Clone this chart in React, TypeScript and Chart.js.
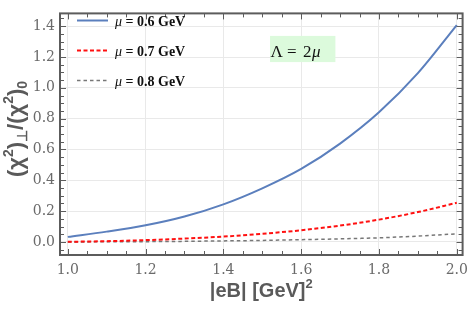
import React, { useEffect, useRef } from "react";
import { Chart, registerables } from "chart.js";

Chart.register(...registerables);

// ---- data ----
const xValues = [1.0, 1.1, 1.2, 1.3, 1.4, 1.5, 1.6, 1.7, 1.8, 1.9, 2.0];
const series06 = [0.033, 0.067, 0.108, 0.165, 0.244, 0.348, 0.474, 0.638, 0.841, 1.095, 1.407];
const series07 = [0.001, 0.005, 0.012, 0.022, 0.035, 0.053, 0.076, 0.106, 0.145, 0.194, 0.254];
const series08 = [0.0, 0.001, 0.002, 0.004, 0.007, 0.010, 0.015, 0.020, 0.027, 0.038, 0.053];
const muLabels = ["0.6", "0.7", "0.8"];
const xTicks = [1.0, 1.2, 1.4, 1.6, 1.8, 2.0];
const yTicks = [0.0, 0.2, 0.4, 0.6, 0.8, 1.0, 1.2, 1.4];
const xRange = [0.98, 2.015];
const yRange = [-0.0846, 1.483];
const annotationBox = { xMin: 1.52, xMax: 1.688, yMin: 1.167, yMax: 1.337 };

const FRAME = "#5c5c5c";
const TEXT = "#5a5a5a";

function drawSegments(ctx: CanvasRenderingContext2D, segs: { t: string; font: string; dy: number }[], x: number, y: number, align: "center" | "left") {
  let total = 0;
  for (const s of segs) { ctx.font = s.font; total += ctx.measureText(s.t).width; }
  let cx = align === "center" ? x - total / 2 : x;
  ctx.textAlign = "left";
  ctx.textBaseline = "alphabetic";
  for (const s of segs) {
    ctx.font = s.font;
    ctx.fillText(s.t, cx, y + s.dy);
    cx += ctx.measureText(s.t).width;
  }
}

const decorPlugin = {
  id: "decor",
  beforeDatasetsDraw(chart: any) {
    const { ctx, scales } = chart;
    const xs = scales.x, ys = scales.y;
    const bx0 = xs.getPixelForValue(annotationBox.xMin);
    const bx1 = xs.getPixelForValue(annotationBox.xMax);
    const by0 = ys.getPixelForValue(annotationBox.yMax);
    const by1 = ys.getPixelForValue(annotationBox.yMin);
    ctx.save();
    ctx.fillStyle = "#dcfadc";
    ctx.fillRect(bx0, by0, bx1 - bx0, by1 - by0);
    ctx.fillStyle = "#111";
    ctx.textBaseline = "alphabetic";
    ctx.textAlign = "left";
    const base = by1 - 5;
    ctx.font = "17px 'Liberation Serif'";
    ctx.fillText("Λ", bx0 + 0.5, base);
    ctx.fillText("=", bx0 + 17, base);
    ctx.fillText("2", bx0 + 33, base);
    ctx.font = "italic 17px 'Liberation Serif'";
    ctx.fillText("μ", bx0 + 42, base);
    ctx.restore();
  },
  afterDraw(chart: any) {
    const { ctx, chartArea: a, scales } = chart;
    const xs = scales.x, ys = scales.y;
    ctx.save();
    ctx.strokeStyle = FRAME;
    ctx.lineWidth = 1;
    ctx.beginPath();
    for (let k = Math.ceil(xs.min * 20); k <= Math.floor(xs.max * 20); k++) {
      const px = Math.round(xs.getPixelForValue(k / 20)) + 0.5;
      const len = k % 4 === 0 ? 6 : 4;
      ctx.moveTo(px, a.bottom); ctx.lineTo(px, a.bottom - len);
      ctx.moveTo(px, a.top); ctx.lineTo(px, a.top + len);
    }
    for (let k = Math.ceil(ys.min * 20); k <= Math.floor(ys.max * 20); k++) {
      const py = Math.round(ys.getPixelForValue(k / 20)) + 0.5;
      const len = k % 4 === 0 ? 6 : 4;
      ctx.moveTo(a.left, py); ctx.lineTo(a.left + len, py);
      ctx.moveTo(a.right, py); ctx.lineTo(a.right - len, py);
    }
    ctx.stroke();
    ctx.lineWidth = 2;
    ctx.strokeRect(a.left, a.top, a.right - a.left, a.bottom - a.top);

    // legend
    const ds = chart.data.datasets;
    for (let i = 0; i < ds.length; i++) {
      const y = 20.5 + i * 30;
      ctx.save();
      ctx.strokeStyle = ds[i].borderColor;
      ctx.lineWidth = ds[i].borderWidth;
      ctx.setLineDash(ds[i].borderDash || []);
      ctx.beginPath();
      ctx.moveTo(77, y); ctx.lineTo(108, y);
      ctx.stroke();
      ctx.restore();
      ctx.fillStyle = "#111";
      drawSegments(ctx, [
        { t: "μ", font: "italic 14px 'Liberation Serif'", dy: 0 },
        { t: " = " + muLabels[i] + " GeV", font: "bold 14px 'Liberation Serif'", dy: 0 },
      ], 115, y + 5, "left");
    }

    // x title
    ctx.fillStyle = TEXT;
    const xc = (a.left + a.right) / 2;
    drawSegments(ctx, [
      { t: "|eB| [GeV]", font: "bold 20px 'Liberation Sans'", dy: 0 },
      { t: "2", font: "bold 13px 'Liberation Sans'", dy: -9 },
    ], xc, 297, "center");

    // y title (rotated)
    ctx.save();
    ctx.translate(23, 129);
    ctx.rotate(-Math.PI / 2);
    const big = "bold 22px 'Liberation Sans'";
    const small = "bold 14px 'Liberation Sans'";
    drawSegments(ctx, [
      { t: "(χ", font: big, dy: 0 },
      { t: "2", font: small, dy: -10 },
      { t: ")", font: big, dy: 0 },
      { t: "⊥", font: small, dy: 4 },
      { t: "/(χ", font: big, dy: 0 },
      { t: "2", font: small, dy: -10 },
      { t: ")", font: big, dy: 0 },
      { t: "0", font: small, dy: 4 },
    ], 0, 0, "center");
    ctx.restore();
    ctx.restore();
  },
};

export default function App() {
  const ref = useRef<HTMLCanvasElement | null>(null);
  useEffect(() => {
    document.body.style.margin = "0";
    const toPts = (ys: number[]) => xValues.map((x, i) => ({ x, y: ys[i] }));
    const chart = new Chart(ref.current!, {
      type: "line",
      data: {
        datasets: [
          { label: "μ = 0.6 GeV", data: toPts(series06), borderColor: "#5b7fbd", borderWidth: 2, pointRadius: 0, cubicInterpolationMode: "monotone", fill: false },
          { label: "μ = 0.7 GeV", data: toPts(series07), borderColor: "#ff1010", borderWidth: 2, borderDash: [4, 2.5], pointRadius: 0, cubicInterpolationMode: "monotone", fill: false },
          { label: "μ = 0.8 GeV", data: toPts(series08), borderColor: "#777777", borderWidth: 1.5, borderDash: [3.5, 3], pointRadius: 0, cubicInterpolationMode: "monotone", fill: false },
        ],
      } as any,
      options: {
        animation: false,
        responsive: false,
        devicePixelRatio: 1,
        layout: { padding: { top: 1, right: 7, left: 0, bottom: 0 } },
        plugins: { legend: { display: false }, tooltip: { enabled: false }, title: { display: false } },
        scales: {
          x: {
            type: "linear",
            min: xRange[0],
            max: xRange[1],
            afterBuildTicks: (s: any) => { s.ticks = xTicks.map((v) => ({ value: v })); },
            afterFit: (s: any) => { s.height = 59; },
            grid: { color: "#e9e9e9", drawTicks: false, lineWidth: 1 },
            border: { display: false },
            ticks: { padding: 7, color: "#6a6a6a", font: { family: "'DejaVu Serif'", size: 14 }, callback: (v: any) => Number(v).toFixed(1), maxRotation: 0 },
          },
          y: {
            type: "linear",
            min: yRange[0],
            max: yRange[1],
            afterBuildTicks: (s: any) => { s.ticks = yTicks.map((v) => ({ value: v })); },
            afterFit: (s: any) => { s.width = 60; },
            grid: { color: "#e9e9e9", drawTicks: false, lineWidth: 1 },
            border: { display: false },
            ticks: { padding: 5, color: "#6a6a6a", font: { family: "'DejaVu Serif'", size: 14 }, callback: (v: any) => Number(v).toFixed(1) },
          },
        },
      } as any,
      plugins: [decorPlugin],
    });
    return () => chart.destroy();
  }, []);
  return (
    <div style={{ width: 475, height: 314 }}>
      <canvas ref={ref} width={475} height={314} style={{ display: "block" }} />
    </div>
  );
}
